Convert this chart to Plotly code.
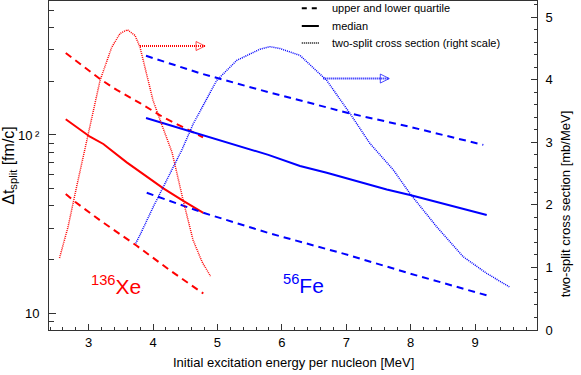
import math

from plotly import graph_objects as go

# 136Xe, left scale (fm/c)
xe_x_upper = [2.643, 3.176, 3.435, 3.797, 4.154, 4.465, 4.775]
xe_upper = [288, 206, 179, 151, 126, 111, 97]
xe_x_median = [2.643, 3.020, 3.227, 3.590, 3.979, 4.159, 4.469, 4.780]
xe_median = [122.5, 97.8, 89, 70.2, 55.8, 50.2, 42.7, 36.6]
xe_x_lower = [2.643, 2.787, 3.176, 3.746, 4.263, 4.780]
xe_lower = [46.7, 42.2, 33.2, 23.9, 17.4, 12.9]
# 136Xe, right scale (mb/MeV)
xe_x_xsec = [2.546, 2.678, 2.818, 2.989, 3.176, 3.357, 3.486, 3.600, 3.719,
             3.797, 3.999, 4.139, 4.294, 4.340, 4.465, 4.620, 4.760, 4.892]
xe_xsec = [1.15, 1.645, 2.32, 3.12, 3.99, 4.52, 4.74, 4.80, 4.71,
           4.52, 3.67, 3.27, 2.84, 2.64, 2.08, 1.44, 1.09, 0.86]
xe_arrow_x = [3.797, 4.807]
xe_arrow_y = [4.54, 4.54]

# 56Fe, left scale (fm/c)
fe_x_upper = [3.890, 4.729, 5.661, 7.059, 7.991, 9.129]
fe_upper = [278, 222, 179, 132, 111, 88]
fe_x_median = [3.890, 4.833, 5.790, 6.282, 6.697, 7.629, 7.991, 9.182]
fe_median = [124.6, 98, 77.3, 67, 61.4, 49.5, 46, 35.6]
fe_x_lower = [3.901, 4.780, 5.790, 6.955, 7.991, 9.182]
fe_lower = [47.4, 36.6, 28.2, 21.6, 16.7, 12.6]
# 56Fe, right scale (mb/MeV)
fe_x_xsec = [3.730, 3.797, 4.003, 4.445, 4.625, 4.988, 5.299, 5.609, 5.661, 5.816, 5.971,
             6.282, 6.541, 6.697, 7.059, 7.369, 7.731, 7.991, 8.405, 8.819, 9.182, 9.533]
fe_xsec = [1.385, 1.52, 1.97, 2.875, 3.30, 3.99, 4.31, 4.47, 4.49, 4.53, 4.50,
           4.39, 4.15, 3.99, 3.46, 2.98, 2.56, 2.18, 1.65, 1.17, 0.905, 0.69]
fe_arrow_x = [6.644, 7.669]
fe_arrow_y = [4.02, 4.02]

legend_names = ["upper and lower quartile", "median", "two-split cross section (right scale)"]
y_tickvals = [10, 100]
y_ticktext = ["10", "10\u2009\u00b2"]

RED = "#ff0000"
BLUE = "#0000ff"
AXIS = "#333333"
FONT = "Liberation Sans, Arial, sans-serif"
DASH = "7px,5px"
DOT = "1px,1px"

fig = go.Figure()


def add_nucleus(xu, yu, xm, ym, xl, yl, xs, ys, ax, ay, color):
    for x, y in ((xu, yu), (xl, yl)):
        fig.add_trace(go.Scatter(x=x, y=y, mode="lines", showlegend=False,
                                 line=dict(color=color, width=2, dash=DASH)))
    fig.add_trace(go.Scatter(x=xm, y=ym, mode="lines", showlegend=False,
                             line=dict(color=color, width=2)))
    fig.add_trace(go.Scatter(x=xs, y=ys, mode="lines", showlegend=False, yaxis="y2",
                             line=dict(color=color, width=1.5, dash=DOT)))
    # arrow pointing to the right scale
    fig.add_trace(go.Scatter(x=ax, y=ay, mode="lines+markers", showlegend=False, yaxis="y2",
                             line=dict(color=color, width=2, dash=DOT),
                             marker=dict(symbol="arrow-right-open", size=[0, 9], color=color,
                                         line=dict(width=1, color=color))))


add_nucleus(xe_x_upper, xe_upper, xe_x_median, xe_median, xe_x_lower, xe_lower,
            xe_x_xsec, xe_xsec, xe_arrow_x, xe_arrow_y, RED)
add_nucleus(fe_x_upper, fe_upper, fe_x_median, fe_median, fe_x_lower, fe_lower,
            fe_x_xsec, fe_xsec, fe_arrow_x, fe_arrow_y, BLUE)

# hand-made legend (short line samples, tight rows)
legend_rows = [(0.978, "5px,5px", 2), (0.924, "solid", 2), (0.872, DOT, 1.5)]
for name, (ypos, dash, width) in zip(legend_names, legend_rows):
    fig.add_shape(type="line", xref="paper", yref="paper", x0=0.518, x1=0.553, y0=ypos, y1=ypos,
                  line=dict(color="black", width=width, dash=dash))
    fig.add_annotation(x=0.576, y=ypos, xref="paper", yref="paper", xanchor="left", yanchor="middle",
                       text=name, showarrow=False, font=dict(size=11, color="black", family=FONT))

fig.add_annotation(x=3.0, y=math.log10(14.4), xref="x", yref="y", xanchor="left", yanchor="middle",
                   text="<sup>136</sup>Xe", showarrow=False, font=dict(size=21, color=RED, family=FONT))
fig.add_annotation(x=5.99, y=math.log10(14.6), xref="x", yref="y", xanchor="left", yanchor="middle",
                   text="<sup>56</sup>Fe", showarrow=False, font=dict(size=21, color=BLUE, family=FONT))
fig.add_annotation(x=0.5, y=-0.10, xref="paper", yref="paper", yanchor="middle",
                   text="Initial excitation energy per nucleon [MeV]", showarrow=False,
                   font=dict(size=13, color="black", family=FONT))
fig.add_annotation(x=1.078, y=0.67, xref="paper", yref="paper", textangle=-90,
                   text="two-split cross section [mb/MeV]", showarrow=False,
                   font=dict(size=13, color="black", family=FONT))

fig.update_layout(
    width=581, height=375,
    margin=dict(l=49, r=44, t=1, b=45),
    plot_bgcolor="white", paper_bgcolor="white",
    font=dict(family=FONT, size=13, color="black"),
    showlegend=False,
    xaxis=dict(range=[2.383, 9.963], showline=True, linecolor=AXIS, linewidth=1, mirror=True,
               showgrid=False, zeroline=False, ticks="inside", ticklen=6, tickcolor=AXIS,
               tick0=0, dtick=1,
               minor=dict(ticks="inside", ticklen=3, dtick=0.2, tickcolor=AXIS, showgrid=False)),
    yaxis=dict(type="log", range=[0.906, 2.7515], showline=True, linecolor=AXIS, linewidth=1,
               showgrid=False, zeroline=False, ticks="inside", ticklen=7, tickcolor=AXIS,
               tickvals=y_tickvals, ticktext=y_ticktext, ticklabelstandoff=6,
               title=dict(text="\u0394t<sub>split</sub> [fm/c]", standoff=6),
               minor=dict(ticks="inside", ticklen=5, tickcolor=AXIS, showgrid=False,
                          tickvals=[9, 20, 30, 40, 50, 60, 70, 80, 90, 200, 300, 400, 500])),
    yaxis2=dict(overlaying="y", side="right", range=[0, 5.26], showline=True, linecolor=AXIS,
                linewidth=1, showgrid=False, zeroline=False, ticks="inside", ticklen=6,
                tickcolor=AXIS, tick0=0, dtick=1, ticklabelstandoff=5,
                minor=dict(ticks="inside", ticklen=3, dtick=0.2, tickcolor=AXIS, showgrid=False)),
)

# the page body has a default 8px margin; drop it so the figure sits at the corner
fig.write_html("out.html", config={"displayModeBar": False},
               post_script="document.body.style.margin = '0px';")
